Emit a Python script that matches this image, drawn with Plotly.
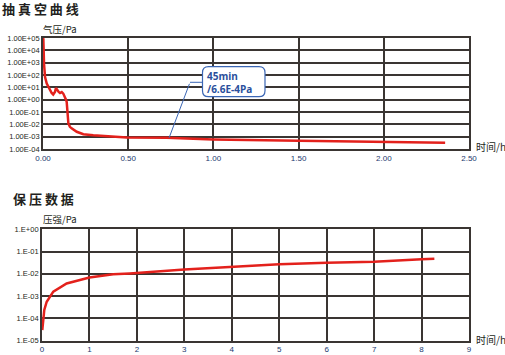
import numpy as np
import plotly.graph_objects as go

# ---- data: vacuum pumping curve ----
vac_t = [0.0, 0.002, 0.006, 0.012, 0.022, 0.037, 0.051, 0.060, 0.070, 0.076, 0.084, 0.092,
         0.100, 0.110, 0.119, 0.129, 0.135, 0.139, 0.143, 0.149, 0.158, 0.168, 0.198, 0.237,
         0.295, 0.374, 0.491, 0.726, 1.0, 1.5, 2.0, 2.36]
vac_p = [1.0e5, 8.3e4, 810, 68, 20, 7.8, 3.5, 2.6, 4.2, 8.7, 5.8, 4.2,
         3.5, 4.2, 3.1, 1.7, 1.0, 0.65, 0.076, 0.0117, 6.3e-3, 4.7e-3, 2.5e-3, 1.6e-3,
         1.3e-3, 1.05e-3, 8.7e-4, 8.1e-4, 6.0e-4, 4.7e-4, 3.9e-4, 3.2e-4]

# ---- data: pressure holding ----
hold_t = [0.006, 0.015, 0.03, 0.048, 0.099, 0.168, 0.238, 0.52, 1.0, 1.5, 1.85, 3.0, 4.0,
          5.0, 6.0, 7.0, 8.0, 8.27]
hold_p = [3.0e-5, 6.0e-5, 1.2e-4, 2.4e-4, 5.6e-4, 9.3e-4, 1.6e-3, 3.7e-3, 6.8e-3, 9.5e-3,
          1.05e-2, 1.58e-2, 2.1e-2, 2.7e-2, 3.16e-2, 3.5e-2, 4.5e-2, 4.8e-2]

# callout point
note_t = 0.74
note_p = 8.1e-4
note_text = "<b>45min<br>/6.6E-4Pa</b>"

vac_xticks = [0, 0.5, 1.0, 1.5, 2.0, 2.5]
vac_xlabels = ["0.00", "0.50", "1.00", "1.50", "2.00", "2.50"]
vac_yticks = [1e5, 1e4, 1e3, 1e2, 1e1, 1e0, 1e-1, 1e-2, 1e-3, 1e-4]
vac_ylabels = ["1.00E+05", "1.00E+04", "1.00E+03", "1.00E+02", "1.00E+01", "1.00E+00",
               "1.00E-01", "1.00E-02", "1.00E-03", "1.00E-04"]
hold_xticks = list(range(0, 10))
hold_yticks = [1e0, 1e-1, 1e-2, 1e-3, 1e-4, 1e-5]
hold_ylabels = ["1.E+00", "1.E-01", "1.E-02", "1.E-03", "1.E-04", "1.E-05"]

W, H = 505, 355
RED = "#e3211c"
GRID = "#3a3532"
BLUE = "#3b66b4"
YFONT = dict(family="Liberation Sans, Arial", size=7.5, color="#231f20")
XFONT = dict(family="Liberation Sans, Arial", size=8, color="#22386e")
CJK = "Noto Sans CJK SC"


def px(x):
    return x / W


def py(y):
    return 1 - y / H


fig = go.Figure()
fig.add_trace(go.Scatter(x=vac_t, y=vac_p, mode="lines", line=dict(color=RED, width=2.5),
                         xaxis="x", yaxis="y", showlegend=False, hoverinfo="skip"))
fig.add_trace(go.Scatter(x=hold_t, y=hold_p, mode="lines", line=dict(color=RED, width=2.5),
                         xaxis="x2", yaxis="y2", showlegend=False, hoverinfo="skip"))

axcommon = dict(showgrid=True, gridcolor=GRID, gridwidth=1.7, showline=True, linecolor="#3a3532",
                linewidth=1.8, mirror=True, zeroline=False, ticks="", fixedrange=True,
                automargin=False)

fig.update_layout(
    width=W, height=H, margin=dict(l=0, r=0, t=0, b=0, pad=0), autosize=False,
    paper_bgcolor="white", plot_bgcolor="white",
    xaxis=dict(domain=[px(43), px(469)], range=[0, 2.5], tickvals=vac_xticks, ticktext=vac_xlabels,
               anchor="y", tickfont=XFONT, **axcommon),
    yaxis=dict(domain=[py(149), py(38)], type="log", range=[-4, 5], tickvals=vac_yticks,
               ticktext=vac_ylabels, anchor="x", tickfont=YFONT, **axcommon),
    xaxis2=dict(domain=[px(42), px(469)], range=[0, 9], tickvals=hold_xticks,
                ticktext=[str(v) for v in hold_xticks], anchor="y2", tickfont=XFONT, **axcommon),
    yaxis2=dict(domain=[py(340.7), py(229.3)], type="log", range=[-5, 0],
                tickvals=hold_yticks, ticktext=hold_ylabels, anchor="x2", tickfont=YFONT, **axcommon),
)


def ptext(x, y, text, size):
    fig.add_annotation(x=px(x), y=py(y), xref="paper", yref="paper", text=text,
                       showarrow=False, xanchor="left", yanchor="middle",
                       font=dict(family=CJK, size=size, color="#231f20"))


fig.add_annotation(x=px(1), y=py(-2.5), xref="paper", yref="paper", text="<b>抽 真 空 曲 线</b>",
                   showarrow=False, xanchor="left", yanchor="top", borderpad=0,
                   font=dict(family=CJK, size=13, color="#231f20"))
fig.add_annotation(x=px(11), y=py(198), xref="paper", yref="paper", text="<b>保 压 数 据</b>",
                   showarrow=False, xanchor="left", yanchor="middle",
                   font=dict(family=CJK, size=13, color="#231f20"))
ptext(41, 29, "气压/Pa", 9.5)
ptext(41, 219, "压强/Pa", 9.5)
ptext(474, 146, "时间/h", 10)
ptext(474, 339, "时间/h", 10)

# ---- callout: leader line + rounded box + text ----
bx0, by0, bx1, by1, r = 202.5, 66.7, 265.0, 96.7, 6
knee_x, knee_y = 190.0, 82.3
fig.add_shape(type="path", xref="paper", yref="paper",
              path=(f"M {px(bx0 + r)} {py(by0)} L {px(bx1 - r)} {py(by0)} "
                    f"Q {px(bx1)} {py(by0)} {px(bx1)} {py(by0 + r)} "
                    f"L {px(bx1)} {py(by1 - r)} Q {px(bx1)} {py(by1)} {px(bx1 - r)} {py(by1)} "
                    f"L {px(bx0 + r)} {py(by1)} Q {px(bx0)} {py(by1)} {px(bx0)} {py(by1 - r)} "
                    f"L {px(bx0)} {py(by0 + r)} Q {px(bx0)} {py(by0)} {px(bx0 + r)} {py(by0)} Z"),
              line=dict(color=BLUE, width=1.2), fillcolor="white", layer="above")
fig.add_shape(type="line", xref="paper", yref="paper", x0=px(knee_x), y0=py(knee_y),
              x1=px(bx0), y1=py(knee_y), line=dict(color=BLUE, width=1), layer="above")
# diagonal from the data point to the knee
fig.add_annotation(x=note_t, y=np.log10(note_p), xref="x", yref="y", text="",
                   showarrow=True, arrowhead=0, arrowcolor=BLUE, arrowwidth=1,
                   axref="pixel", ayref="pixel",
                   ax=knee_x - (43 + note_t * 170.4), ay=knee_y - (149 - (np.log10(note_p) + 4) * 12.33),
                   standoff=0)
fig.add_annotation(x=px(205), y=py(82), xref="paper", yref="paper", text=note_text,
                   showarrow=False, xanchor="left", yanchor="middle", align="left",
                   font=dict(family="Open Sans, Liberation Sans", size=10, color="#2a4f9c"))

fig.write_html("out.html",
               post_script="document.body.style.margin='0';document.body.style.overflow='hidden';")
